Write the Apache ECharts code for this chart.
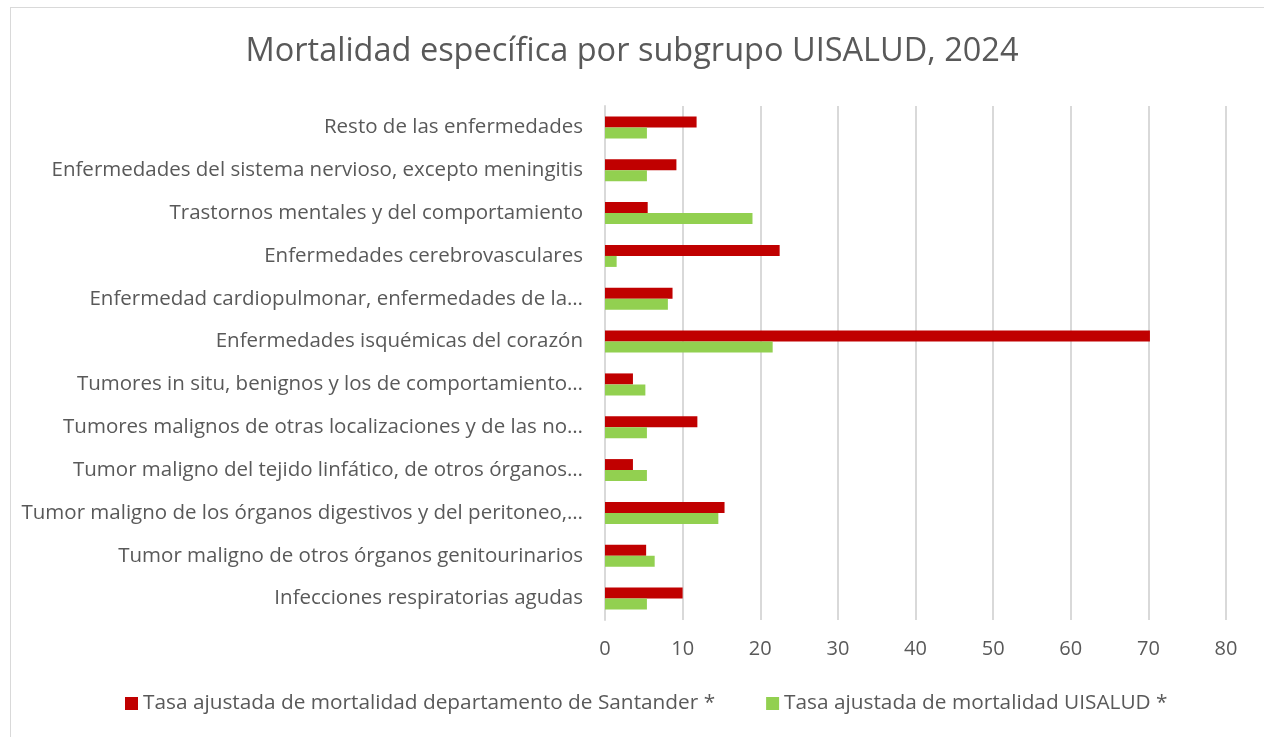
<!DOCTYPE html>
<html>
<head>
<meta charset="utf-8">
<script src="https://cdn.jsdelivr.net/npm/echarts@6/dist/echarts.min.js"></script>
<style>
  html, body { margin: 0; padding: 0; background: #fff; }
  #frame { position: absolute; left: 10px; top: 7px; width: 1264px; height: 740px; border: 1px solid #d9d9d9; box-sizing: border-box; }
  #main { position: absolute; left: 0; top: 0; width: 1264px; height: 737px; }
</style>
</head>
<body>
<div id="frame"></div>
<div id="main"></div>
<script>
// categories, top to bottom as in the picture
let categories = [
    'Resto de las enfermedades',
    'Enfermedades del sistema nervioso, excepto meningitis',
    'Trastornos mentales y del comportamiento',
    'Enfermedades cerebrovasculares',
    'Enfermedad cardiopulmonar, enfermedades de la…',
    'Enfermedades isquémicas del corazón',
    'Tumores in situ, benignos y los de comportamiento…',
    'Tumores malignos de otras localizaciones y de las no…',
    'Tumor maligno del tejido linfático, de otros órganos…',
    'Tumor maligno de los órganos digestivos y del peritoneo,…',
    'Tumor maligno de otros órganos genitourinarios',
    'Infecciones respiratorias agudas'
]
let santander = [11.8, 9.2, 5.5, 22.5, 8.7, 70.2, 3.6, 11.9, 3.6, 15.4, 5.3, 10.0]
let uisalud = [5.4, 5.4, 19.0, 1.5, 8.1, 21.6, 5.2, 5.4, 5.4, 14.6, 6.4, 5.4]
let seriesNames = [
    'Tasa ajustada de mortalidad departamento de Santander *',
    'Tasa ajustada de mortalidad UISALUD *'
]
let xTicks = [0, 80, 10]

let font = 'Open Sans, Noto Sans, sans-serif'
let myChart = echarts.init(document.getElementById('main'))

let option = {
    animation: false,
    title: {
        text: 'Mortalidad específica por subgrupo UISALUD, 2024',
        left: 'center',
        top: 30,
        textStyle: { fontFamily: font, fontSize: 32.5, fontWeight: 'normal', color: '#595959' }
    },
    legend: {
        bottom: 18,
        left: 120,
        itemWidth: 13,
        itemHeight: 13,
        itemGap: 51,
        icon: 'rect',
        textStyle: { fontFamily: font, fontSize: 20.8, color: '#595959' },
        data: seriesNames
    },
    grid: {
        left: 605,
        right: 38,
        top: 106,
        bottom: 117,
        containLabel: false
    },
    xAxis: {
        type: 'value',
        min: xTicks[0],
        max: xTicks[1],
        interval: xTicks[2],
        axisLine: { show: false },
        axisTick: { show: false },
        axisLabel: { fontFamily: font, fontSize: 20, color: '#595959', margin: 19 },
        splitLine: { lineStyle: { color: '#d9d9d9', width: 2 } }
    },
    yAxis: {
        type: 'category',
        inverse: true,
        data: categories,
        axisLine: { show: true, lineStyle: { color: '#d9d9d9', width: 2 } },
        axisTick: { show: false },
        axisLabel: { fontFamily: font, fontSize: 20.5, color: '#595959', margin: 22 }
    },
    series: [
        {
            name: seriesNames[0],
            type: 'bar',
            data: santander,
            barWidth: 11,
            barGap: '0%',
            itemStyle: { color: '#c00000' }
        },
        {
            name: seriesNames[1],
            type: 'bar',
            data: uisalud,
            barWidth: 11,
            itemStyle: { color: '#92d050' }
        }
    ]
}

myChart.setOption(option)
</script>
</body>
</html>
